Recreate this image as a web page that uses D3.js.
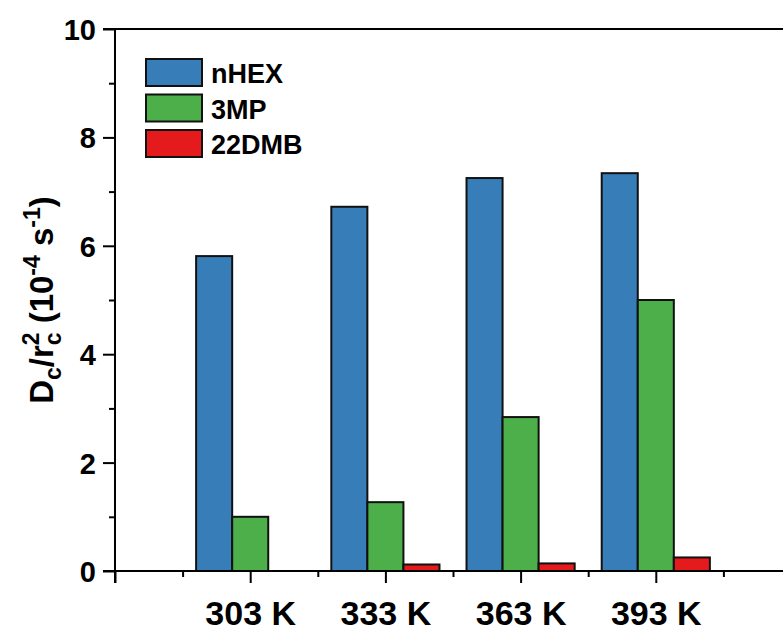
<!DOCTYPE html>
<html>
<head>
<meta charset="utf-8">
<script src="https://cdn.jsdelivr.net/npm/d3@7"></script>
<style>
  html, body { margin: 0; padding: 0; background: #fff; }
  svg { display: block; }
  text { font-family: "Liberation Sans", Arial, sans-serif; font-weight: bold; fill: #000; }
</style>
</head>
<body>
<svg id="chart" width="783" height="631"></svg>
<script>
// Temperatures (categories) and normalised diffusivities per sorbate
const categories = ["303 K", "333 K", "363 K", "393 K"];
const seriesNames = ["nHEX", "3MP", "22DMB"];
const nHEX  = [5.81, 6.72, 7.25, 7.34];
const mp3   = [1.00, 1.27, 2.84, 5.00];
const dmb22 = [0.00, 0.12, 0.14, 0.25];
const yTicks = [0, 2, 4, 6, 8, 10];
const colors = ["#377EB8", "#4DAF4A", "#E41A1C"];

const seriesValues = [nHEX, mp3, dmb22];

const svg = d3.select("#chart");

// Frame: left axis at x=115, top at y=29, baseline at y=571
const plotLeft = 115, plotTop = 29, plotBottom = 571;
const step = 135.2;

// x runs in category slots: slot 0 is the axis origin, categories sit at 1..4
const x = d3.scaleLinear().domain([0, 5]).range([plotLeft, plotLeft + 5 * step]);
const y = d3.scaleLinear().domain([0, 10]).range([plotBottom, plotTop]);
const sub = d3.scaleBand().domain(seriesNames).range([-0.4 * step, 0.4 * step]).padding(0);

// Bars
const bars = [];
categories.forEach((c, i) => {
  seriesNames.forEach((s, j) => {
    bars.push({ cat: i + 1, series: s, value: seriesValues[j][i], color: colors[j] });
  });
});

svg.append("g")
  .selectAll("rect")
  .data(bars.filter(d => d.value > 0))
  .join("rect")
  .attr("x", d => x(d.cat) + sub(d.series))
  .attr("y", d => y(d.value))
  .attr("width", sub.bandwidth())
  .attr("height", d => y(0) - y(d.value))
  .attr("fill", d => d.color)
  .attr("stroke", "#111")
  .attr("stroke-width", 2);

// Top frame line
svg.append("line")
  .attr("x1", plotLeft - 12).attr("x2", 783)
  .attr("y1", plotTop).attr("y2", plotTop)
  .attr("stroke", "#000").attr("stroke-width", 2);

// Y axis: major ticks with labels, minor ticks in between
const yAxis = d3.axisLeft(y).tickValues(yTicks).tickSize(12).tickPadding(7).tickFormat(d3.format("d"));
const gy = svg.append("g").attr("transform", `translate(${plotLeft},0)`).call(yAxis);
gy.select(".domain").remove();
gy.selectAll(".tick line").attr("stroke", "#000").attr("stroke-width", 2);
gy.selectAll(".tick text").style("font-size", "29px").attr("dy", "0.36em");

const yMinor = d3.axisLeft(y).tickValues([1, 3, 5, 7, 9]).tickSize(6).tickFormat("");
const gym = svg.append("g").attr("transform", `translate(${plotLeft},0)`).call(yMinor);
gym.select(".domain").remove();
gym.selectAll(".tick line").attr("stroke", "#000").attr("stroke-width", 2);

svg.append("line")
  .attr("x1", plotLeft).attr("x2", plotLeft)
  .attr("y1", plotTop - 1).attr("y2", plotBottom + 12)
  .attr("stroke", "#000").attr("stroke-width", 2);

// X axis: category ticks with labels, half-slot minor ticks
const xAxis = d3.axisBottom(x).tickValues([0, 1, 2, 3, 4, 5]).tickSize(12).tickPadding(18)
  .tickFormat(d => (d >= 1 && d <= categories.length) ? categories[d - 1] : "");
const gx = svg.append("g").attr("transform", `translate(0,${plotBottom})`).call(xAxis);
gx.select(".domain").remove();
gx.selectAll(".tick line").attr("stroke", "#000").attr("stroke-width", 2);
gx.selectAll(".tick text").style("font-size", "34px");

const xMinor = d3.axisBottom(x).tickValues([0.5, 1.5, 2.5, 3.5, 4.5]).tickSize(6).tickFormat("");
const gxm = svg.append("g").attr("transform", `translate(0,${plotBottom})`).call(xMinor);
gxm.select(".domain").remove();
gxm.selectAll(".tick line").attr("stroke", "#000").attr("stroke-width", 2);

svg.append("line")
  .attr("x1", plotLeft - 12).attr("x2", 783)
  .attr("y1", plotBottom).attr("y2", plotBottom)
  .attr("stroke", "#000").attr("stroke-width", 2);

// Y axis title: Dc/rc² (10⁻⁴ s⁻¹)
const title = svg.append("text")
  .attr("transform", "translate(53,300) rotate(-90)")
  .attr("text-anchor", "middle")
  .style("font-size", "33px");
title.append("tspan").text("D");
title.append("tspan").text("c").attr("dy", 8).style("font-size", "23px");
title.append("tspan").text("/r").attr("dy", -8);
title.append("tspan").text("c").attr("dy", 8).style("font-size", "23px");
title.append("tspan").text("2").attr("dx", -13).attr("dy", -22).style("font-size", "23px");
title.append("tspan").text(" (10").attr("dy", 14);
title.append("tspan").text("-4").attr("dy", -13).style("font-size", "23px");
title.append("tspan").text(" s").attr("dy", 13);
title.append("tspan").text("-1").attr("dy", -13).style("font-size", "23px");
title.append("tspan").text(")").attr("dy", 13);

// Legend
const legend = svg.append("g").attr("transform", "translate(146,59)");
const legendRows = legend.selectAll("g")
  .data(seriesNames)
  .join("g")
  .attr("transform", (d, i) => `translate(0,${i * 35.5})`);
legendRows.append("rect")
  .attr("width", 56).attr("height", 27)
  .attr("fill", (d, i) => colors[i])
  .attr("stroke", "#111").attr("stroke-width", 2);
legendRows.append("text")
  .attr("x", 65).attr("y", 24)
  .style("font-size", "27px")
  .text(d => d);
</script>
</body>
</html>
